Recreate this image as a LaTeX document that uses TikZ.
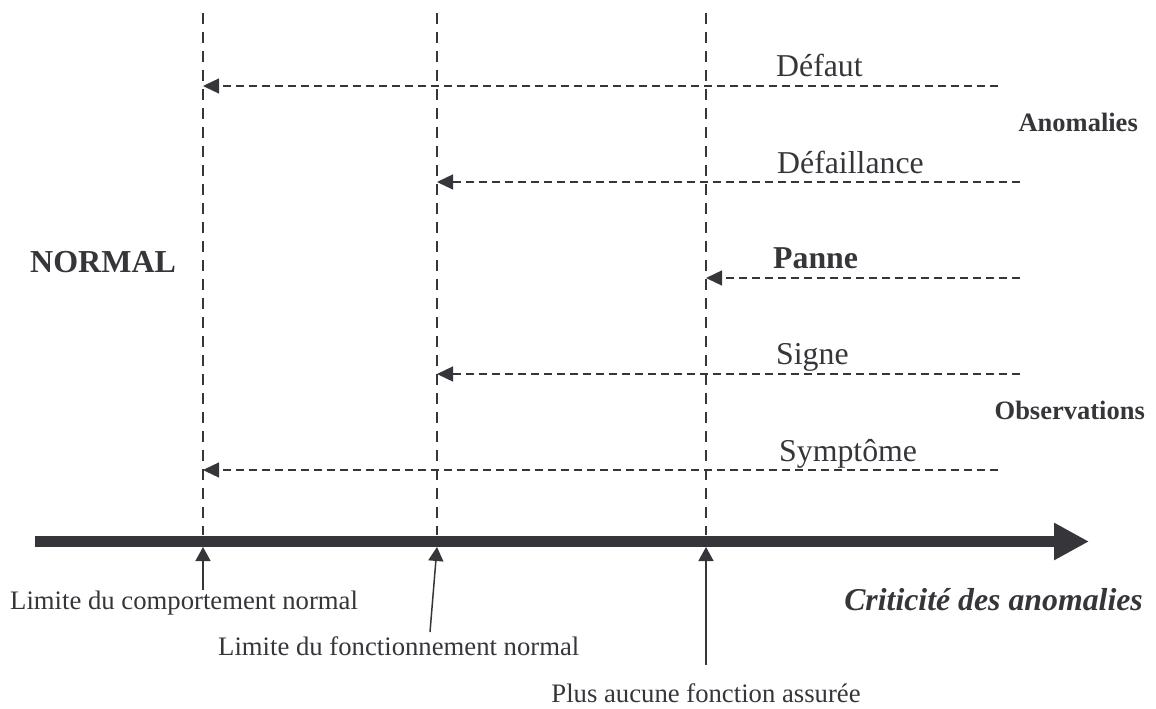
\documentclass[tikz,border=0pt]{standalone}
\usepackage{fontspec}
\setmainfont{Liberation Serif}
\usetikzlibrary{arrows.meta}
\definecolor{ink}{RGB}{54,53,58}
\tikzset{
  every node/.style={text=ink, inner sep=0pt},
  guide/.style={draw=ink, line width=1.6pt, dash pattern=on 11pt off 8pt},
  event/.style={draw=ink, line width=1.3pt, dash pattern=on 8pt off 5pt,
    -{Triangle[length=16pt,width=15pt]}},
  pointer/.style={draw=ink, line width=1.5pt, -{Triangle[length=14pt,width=15pt]}},
  biglabel/.style={font=\fontsize{31.8}{36}\selectfont, anchor=base west},
  smalllabel/.style={font=\fontsize{26.7}{30}\selectfont},
  sidelabel/.style={font=\fontsize{26.5}{30}\selectfont\bfseries, anchor=base east},
}
\begin{document}
\begin{tikzpicture}[x=1pt,y=-1pt]
\useasboundingbox (0,0) rectangle (1156,709);

% vertical thresholds
\coordinate (v1t) at (203,13);  \coordinate (v1b) at (203,535);
\coordinate (v2t) at (437,13);  \coordinate (v2b) at (437,535);
\coordinate (v3t) at (706,13);  \coordinate (v3b) at (706,535);
\draw[guide] (v1t) -- (v1b);
\draw[guide] (v2t) -- (v2b);
\draw[guide] (v3t) -- (v3b);

% criticality axis
\coordinate (axs) at (35,541.5);
\coordinate (axe) at (1089,541.5);
\draw[draw=ink, line width=11pt, -{Triangle[length=35pt,width=35pt]}] (axs) -- (axe);

% anomaly events
\coordinate (d1) at (998,86);   \coordinate (d1e) at (203,86);
\coordinate (d2) at (1020,182); \coordinate (d2e) at (437,182);
\coordinate (d3) at (1020,278); \coordinate (d3e) at (706,278);
\coordinate (d4) at (1020,374); \coordinate (d4e) at (437,374);
\coordinate (d5) at (998,470);  \coordinate (d5e) at (203,470);
\draw[event] (d1) -- (d1e);
\draw[event] (d2) -- (d2e);
\draw[event] (d3) -- (d3e);
\draw[event] (d4) -- (d4e);
\draw[event] (d5) -- (d5e);

\node[biglabel] (defaut) at (776,77) {Défaut};
\node[biglabel] (defaillance) at (777,173) {Défaillance};
\node[biglabel, font=\fontsize{31.8}{36}\selectfont\bfseries] (panne) at (773,268) {Panne};
\node[biglabel] (signe) at (776,364) {Signe};
\node[biglabel] (symptome) at (779,461) {Symptôme};

\node[sidelabel] (anom) at (1138,131) {Anomalies};
\node[sidelabel] (obs) at (1145,419) {Observations};

\node[font=\fontsize{32}{36}\selectfont\bfseries, anchor=base west] (normal) at (30,272) {NORMAL};

% limit labels and their pointers
\node[smalllabel, anchor=base west] (lim1) at (10,609) {Limite du comportement normal};
\node[smalllabel, anchor=base west] (lim2) at (218,655) {Limite du fonctionnement normal};
\node[smalllabel, anchor=base] (lim3) at (706,702) {Plus aucune fonction assurée};
\node[font=\fontsize{31.8}{36}\selectfont\bfseries\itshape, anchor=base east] (crit) at (1143,610) {Criticité des anomalies};

\coordinate (p1) at (203,590); \coordinate (p1e) at (203,547);
\coordinate (p2) at (430,632); \coordinate (p2e) at (437,547);
\coordinate (p3) at (706,665); \coordinate (p3e) at (706,547);
\draw[pointer] (p1) -- (p1e);
\draw[pointer] (p2) -- (p2e);
\draw[pointer] (p3) -- (p3e);
\end{tikzpicture}
\end{document}
